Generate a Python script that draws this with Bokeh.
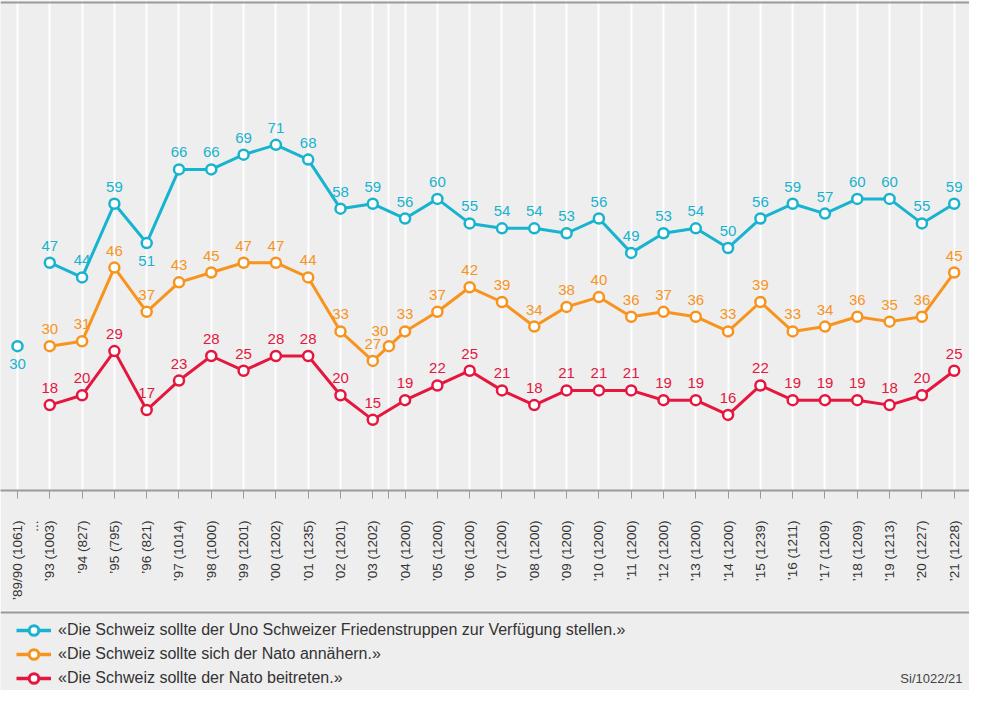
import math
from bokeh.plotting import figure
from bokeh.models import (ColumnDataSource, FixedTicker, Span, Legend, LegendItem,
                          Label, Range1d)
from bokeh.layouts import column
from bokeh.embed import file_html
from bokeh.resources import INLINE
from bokeh.core.properties import value

# ---------------- data ----------------
survey_labels = ["’89/90 (1061)", "’93 (1003)", "’94 (827)", "’95 (795)", "’96 (821)",
                 "’97 (1014)", "’98 (1000)", "’99 (1201)", "’00 (1202)", "’01 (1235)",
                 "’02 (1201)", "’03 (1202)", "’04 (1200)", "’05 (1200)", "’06 (1200)",
                 "’07 (1200)", "’08 (1200)", "’09 (1200)", "’10 (1200)", "’11 (1200)",
                 "’12 (1200)", "’13 (1200)", "’14 (1200)", "’15 (1239)", "’16 (1211)",
                 "’17 (1209)", "’18 (1209)", "’19 (1213)", "’20 (1227)", "’21 (1228)"]

uno_friedenstruppen = [30, 47, 44, 59, 51, 66, 66, 69, 71, 68,
                       58, 59, 56, 60, 55, 54, 54, 53, 56, 49,
                       53, 54, 50, 56, 59, 57, 60, 60, 55, 59]
nato_annaehern = [None, 30, 31, 46, 37, 43, 45, 47, 47, 44,
                  33, 27, 33, 37, 42, 39, 34, 38, 40, 36,
                  37, 36, 33, 39, 33, 34, 36, 35, 36, 45]
# additional 2003 survey (between '03 and '04), only for "annähern"
nato_annaehern_extra_pos = 11.5
nato_annaehern_extra_val = 30
nato_beitreten = [None, 18, 20, 29, 17, 23, 28, 25, 28, 28,
                  20, 15, 19, 22, 25, 21, 18, 21, 21, 21,
                  19, 19, 16, 22, 19, 19, 19, 18, 20, 25]

series_names = ["«Die Schweiz sollte der Uno Schweizer Friedenstruppen zur Verfügung stellen.»",
                "«Die Schweiz sollte sich der Nato annähern.»",
                "«Die Schweiz sollte der Nato beitreten.»"]
footnote = "Si/1022/21"

# ---------------- style ----------------
BLUE = "#17b3cf"
ORANGE = "#f7941e"
RED = "#e5173f"
BG = "#eeeeee"
AXIS_GREY = "#9a9a9a"
FONT = "Liberation Sans"

positions = list(range(len(survey_labels)))

p = figure(width=969, height=610,
           x_range=Range1d(-0.526, 29.474), y_range=Range1d(0.61, 100.4),
           output_backend="svg", toolbar_location=None,
           x_axis_location="below", y_axis_location=None,
           min_border_left=0, min_border_right=0, min_border_top=0,
           min_border_bottom=120,
           background_fill_color=BG, border_fill_color=BG,
           outline_line_color=None)

# x axis: labels at survey positions (plus the "..." gap marker), tick marks as minor ticks
label_ticks = [0, 0.5] + positions[1:]
mark_ticks = positions + [nato_annaehern_extra_pos]
overrides = {i: lab for i, lab in zip(positions, survey_labels)}
overrides[0.5] = "..."
ax = p.xaxis[0]
ax.ticker = FixedTicker(ticks=label_ticks, minor_ticks=mark_ticks)
ax.major_label_overrides = overrides
ax.major_label_orientation = math.pi / 2
ax.major_tick_out = 0
ax.major_tick_in = 0
ax.minor_tick_out = 8
ax.minor_tick_in = 0
ax.minor_tick_line_color = AXIS_GREY
ax.minor_tick_line_width = 1
ax.axis_line_color = AXIS_GREY
ax.axis_line_width = 2
ax.major_label_standoff = 22
ax.major_label_text_font = FONT
ax.major_label_text_font_size = "13.5px"
ax.major_label_text_color = "#333333"

p.xgrid.ticker = FixedTicker(ticks=mark_ticks)
p.xgrid.grid_line_color = "white"
p.xgrid.grid_line_width = 2
p.ygrid.visible = False

p.add_layout(Span(location=100, dimension="width", line_color=AXIS_GREY, line_width=2))

# ---- series ----
def draw(xs, ys, color, offsets):
    src = ColumnDataSource(dict(x=xs, y=ys, t=[str(v) for v in ys],
                                xo=[o[0] for o in offsets], yo=[o[1] for o in offsets]))
    p.text(x="x", y="y", text="t", x_offset="xo", y_offset="yo", source=src,
           text_align="center", text_baseline="middle", text_color=color,
           text_font=value(FONT), text_font_size="15px")
    return src

# blue: lone first point, then connected line
bx = positions
by = uno_friedenstruppen
p.line(bx[1:], by[1:], line_color=BLUE, line_width=3)
p.scatter(bx, by, size=10, marker="circle", fill_color="white", line_color=BLUE, line_width=2.5)
below_blue = {0, 4}
draw(bx, by, BLUE, [(0, 18) if i in below_blue else (0, -17) for i in range(len(bx))])

# orange
ox, oy = [], []
for i, v in zip(positions, nato_annaehern):
    if v is None:
        continue
    ox.append(i); oy.append(v)
    if i == 11:
        ox.append(nato_annaehern_extra_pos); oy.append(nato_annaehern_extra_val)
p.line(ox, oy, line_color=ORANGE, line_width=3)
p.scatter(ox, oy, size=10, marker="circle", fill_color="white", line_color=ORANGE, line_width=2.5)
draw(ox, oy, ORANGE, [(-9, -15) if x == nato_annaehern_extra_pos else (0, -17) for x in ox])

# red
rx = [i for i, v in zip(positions, nato_beitreten) if v is not None]
ry = [v for v in nato_beitreten if v is not None]
p.line(rx, ry, line_color=RED, line_width=3)
p.scatter(rx, ry, size=10, marker="circle", fill_color="white", line_color=RED, line_width=2.5)
draw(rx, ry, RED, [(0, -17)] * len(rx))

# ---------------- legend panel ----------------
p2 = figure(width=969, height=80, x_range=Range1d(0, 969), y_range=Range1d(0, 80),
            output_backend="svg", toolbar_location=None,
            x_axis_location=None, y_axis_location=None,
            min_border=0, background_fill_color=BG, border_fill_color=BG,
            outline_line_color=None)
p2.grid.visible = False
p2.add_layout(Span(location=78, dimension="width", line_color=AXIS_GREY, line_width=2))

items = []
for name, color in zip(series_names, [BLUE, ORANGE, RED]):
    # legend-only renderers, placed outside the visible range
    rl = p2.line(x=[-1000, -999], y=[-1000, -1000], line_color=color, line_width=3.5)
    rs = p2.scatter(x=[-1000], y=[-1000], size=11, marker="circle", fill_color="white",
                    line_color=color, line_width=3)
    items.append(LegendItem(label=name, renderers=[rl, rs]))

legend = Legend(items=items, location=(16, 0), orientation="vertical",
                background_fill_alpha=0, border_line_color=None,
                padding=0, margin=0, spacing=0, glyph_width=35, glyph_height=24,
                label_standoff=7, label_text_font=FONT, label_text_font_size="16px",
                label_text_color="#333333")
p2.add_layout(legend)

p2.add_layout(Label(x=962, y=12, text=footnote, text_align="right", text_baseline="middle",
                    text_font=FONT, text_font_size="13px", text_color="#444444"))

layout = column(p, p2, spacing=0)
open("out.html", "w").write(file_html(layout, INLINE))
